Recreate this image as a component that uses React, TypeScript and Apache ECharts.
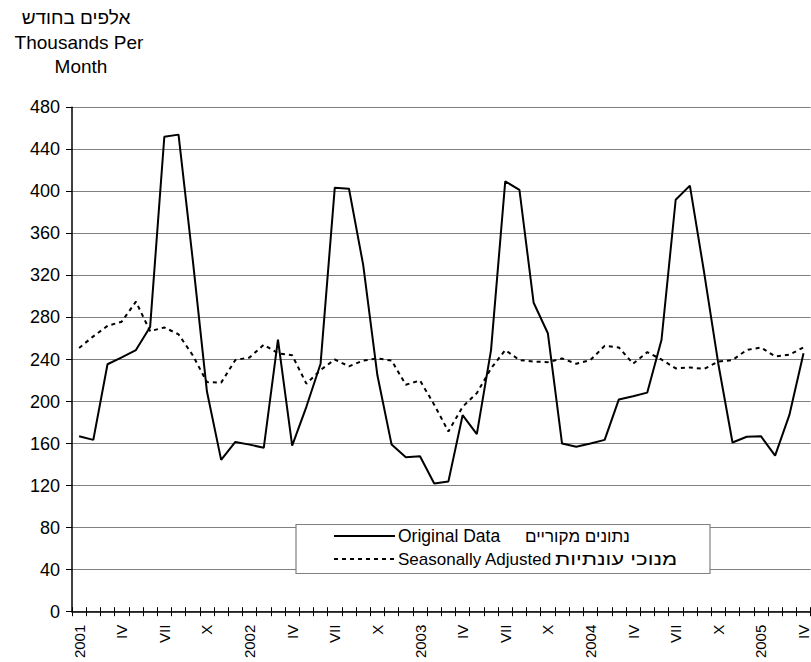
import React, { useEffect, useRef } from "react";
import * as echarts from "echarts";

const FONT = "'Liberation Sans', Arial, sans-serif";

// Month-by-month category labels, Jan 2001 .. Apr 2005
const monthLabels = [
  "2001", "", "", "IV", "", "", "VII", "", "", "X", "", "",
  "2002", "", "", "IV", "", "", "VII", "", "", "X", "", "",
  "2003", "", "", "IV", "", "", "VII", "", "", "X", "", "",
  "2004", "", "", "IV", "", "", "VII", "", "", "X", "", "",
  "2005", "", "", "IV",
];

const originalData = [
  167, 163.5, 235.5, 242, 249, 271, 452, 454, 335, 209.5, 144.5, 161.5,
  159, 156, 259, 158, 195, 236, 403.5, 402.5, 330, 225, 159, 147,
  148, 122, 124, 187, 169, 249, 409.5, 401.5, 294, 265, 160, 157,
  160, 163.5, 202, 205, 208.5, 258.5, 392, 405.5, 323, 236, 161, 166.5,
  167, 148.5, 187, 246,
];

const seasonallyAdjusted = [
  251, 262, 272, 276, 295, 267, 270.5, 264, 244, 218.5, 218, 239.5,
  242, 254, 246, 244, 217, 230, 240, 233.5, 239, 241, 239, 216,
  220, 197, 171.5, 195, 208, 231.5, 249, 239.5, 238, 237.5, 241, 236,
  239.5, 253, 251.5, 236, 247, 240, 231.5, 232.5, 231, 238, 239.5, 249,
  251.5, 243, 244.5, 251.5,
];

const yMin = 0;
const yMax = 480;
const yStep = 40;

const titleLines = ["אלפים בחודש", "Thousands Per", "Month"];
const legendEnglish = ["Original Data", "Seasonally Adjusted"];
const legendHebrew = ["נתונים מקוריים", "מנוכי עונתיות"];

export default function App() {
  const ref = useRef<HTMLDivElement>(null);

  useEffect(() => {
    if (!ref.current) return;
    const chart = echarts.init(ref.current, undefined, { renderer: "svg" });

    const option: any = {
      animation: false,
      backgroundColor: "#fff",
      grid: { left: 72, right: -2, top: 107.3, bottom: 50.3, containLabel: false },
      xAxis: [
        {
          type: "category",
          data: monthLabels,
          boundaryGap: true,
          position: "bottom",
          axisLine: { show: true, lineStyle: { color: "#000", width: 1.5 } },
          axisTick: { show: true, inside: true, length: 4.5, interval: 0, lineStyle: { color: "#000", width: 1 } },
          axisLabel: {
            show: true,
            interval: 0,
            rotate: 90,
            margin: 13,
            fontSize: 15,
            color: "#000",
            fontFamily: FONT,
            hideOverlap: false,
          },
          splitLine: { show: false },
        },
        {
          type: "category",
          data: monthLabels,
          boundaryGap: true,
          position: "bottom",
          offset: 0,
          axisLine: { show: false },
          axisTick: { show: true, inside: false, length: 4.5, interval: 0, lineStyle: { color: "#000", width: 1 } },
          axisLabel: { show: false },
          splitLine: { show: false },
        },
      ],
      yAxis: {
        type: "value",
        min: yMin,
        max: yMax,
        interval: yStep,
        axisLine: { show: true, lineStyle: { color: "#000", width: 1.5 } },
        axisTick: { show: true, length: 6, lineStyle: { color: "#000", width: 1 } },
        axisLabel: { fontSize: 18, color: "#000", margin: 12, fontFamily: FONT },
        splitLine: { show: true, lineStyle: { color: "#808080", width: 1 } },
      },
      series: [
        {
          name: legendEnglish[0],
          type: "line",
          xAxisIndex: 0,
          data: originalData,
          symbol: "none",
          lineStyle: { color: "#000", width: 2 },
          z: 3,
        },
        {
          name: legendEnglish[1],
          type: "line",
          xAxisIndex: 0,
          data: seasonallyAdjusted,
          symbol: "none",
          lineStyle: { color: "#000", width: 2, type: [4, 4] },
          z: 2,
        },
      ],
      graphic: [
        {
          type: "text",
          x: 76,
          y: 17,
          style: { text: titleLines[0], fill: "#000", font: `19px ${FONT}`, textAlign: "center", textVerticalAlign: "middle" },
        },
        {
          type: "text",
          x: 79,
          y: 42,
          style: { text: titleLines[1], fill: "#000", font: `19px ${FONT}`, textAlign: "center", textVerticalAlign: "middle" },
        },
        {
          type: "text",
          x: 81,
          y: 66,
          style: { text: titleLines[2], fill: "#000", font: `19px ${FONT}`, textAlign: "center", textVerticalAlign: "middle" },
        },
        {
          type: "rect",
          shape: { x: 296, y: 524.5, width: 414, height: 49 },
          style: { fill: "#fff", stroke: "#808080", lineWidth: 1.2 },
          z: 100,
        },
        {
          type: "line",
          shape: { x1: 334, y1: 536, x2: 395, y2: 536 },
          style: { stroke: "#000", lineWidth: 2 },
          z: 101,
        },
        {
          type: "line",
          shape: { x1: 334, y1: 559, x2: 395, y2: 559 },
          style: { stroke: "#000", lineWidth: 2, lineDash: [4, 4] },
          z: 101,
        },
        {
          type: "text",
          x: 398,
          y: 536,
          z: 101,
          style: { text: legendEnglish[0], fill: "#000", font: `17.5px ${FONT}`, textAlign: "left", textVerticalAlign: "middle" },
        },
        {
          type: "text",
          x: 525,
          y: 536,
          z: 101,
          style: { text: legendHebrew[0], fill: "#000", font: `17px ${FONT}`, textAlign: "left", textVerticalAlign: "middle" },
        },
        {
          type: "text",
          x: 398,
          y: 559,
          z: 101,
          style: { text: legendEnglish[1], fill: "#000", font: `17px ${FONT}`, textAlign: "left", textVerticalAlign: "middle" },
        },
        {
          type: "text",
          x: 555,
          y: 559,
          z: 101,
          scaleX: 1.3,
          style: { text: legendHebrew[1], fill: "#000", font: `17px ${FONT}`, textAlign: "left", textVerticalAlign: "middle" },
        },
      ],
    };

    chart.setOption(option);
    return () => {
      chart.dispose();
    };
  }, []);

  return (
    <div
      ref={ref}
      style={{ position: "fixed", left: 0, top: 0, width: 811, height: 662, background: "#fff" }}
    />
  );
}
